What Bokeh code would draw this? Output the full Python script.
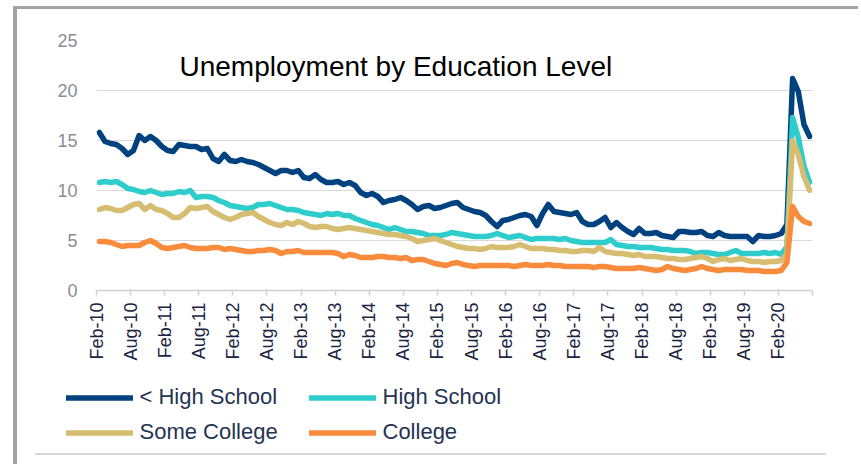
import math
from bokeh.plotting import figure
from bokeh.layouts import column
from bokeh.models import FixedTicker, Legend, LegendItem, Label, Range1d
from bokeh.embed import file_html
from bokeh.resources import INLINE

# monthly index, Feb-2010 (0) .. Jul-2020 (125)
months = list(range(126))
tick_positions = list(range(0, 127, 6))
tick_labels = ["Feb-10", "Aug-10", "Feb-11", "Aug-11", "Feb-12", "Aug-12", "Feb-13",
               "Aug-13", "Feb-14", "Aug-14", "Feb-15", "Aug-15", "Feb-16", "Aug-16",
               "Feb-17", "Aug-17", "Feb-18", "Aug-18", "Feb-19", "Aug-19", "Feb-20", ""]

less_than_hs = [
    15.8, 14.9, 14.7, 14.6, 14.2, 13.6, 14.0, 15.5, 15.0, 15.4, 15.0, 14.4,
    14.0, 13.9, 14.6, 14.5, 14.4, 14.4, 14.1, 14.2, 13.2, 12.9, 13.6, 13.0,
    12.9, 13.1, 12.9, 12.8, 12.6, 12.3, 12.0, 11.7, 12.0, 12.0, 11.8, 12.0,
    11.3, 11.2, 11.6, 11.1, 10.8, 10.8, 10.9, 10.6, 10.8, 10.5, 9.8, 9.5,
    9.7, 9.4, 8.8, 9.0, 9.1, 9.3, 9.0, 8.6, 8.1, 8.4, 8.5, 8.2,
    8.3, 8.5, 8.7, 8.8, 8.3, 8.1, 7.9, 7.8, 7.5, 6.9, 6.4, 7.0,
    7.1, 7.3, 7.5, 7.6, 7.4, 6.5, 7.7, 8.6, 7.9, 7.8, 7.7, 7.6,
    7.8, 6.9, 6.6, 6.6, 6.9, 7.3, 6.3, 6.8, 6.3, 5.9, 5.6, 6.2,
    5.7, 5.7, 5.8, 5.5, 5.4, 5.3, 5.9, 5.9, 5.8, 5.8, 5.9, 5.5,
    5.4, 5.8, 5.5, 5.4, 5.4, 5.4, 5.4, 4.9, 5.5, 5.4, 5.4, 5.5,
    5.7, 6.6, 21.2, 19.9, 16.6, 15.4]

high_school = [
    10.8, 10.9, 10.8, 10.9, 10.6, 10.2, 10.1, 9.9, 9.8, 10.0, 9.8, 9.6,
    9.7, 9.7, 9.9, 9.8, 10.0, 9.3, 9.4, 9.4, 9.3, 9.0, 8.8, 8.5,
    8.4, 8.3, 8.2, 8.3, 8.6, 8.6, 8.7, 8.5, 8.3, 8.1, 8.1, 8.0,
    7.8, 7.7, 7.6, 7.5, 7.7, 7.6, 7.7, 7.5, 7.5, 7.2, 7.0, 6.8,
    6.6, 6.5, 6.3, 6.1, 6.3, 6.1, 5.9, 5.9, 5.8, 5.7, 5.5, 5.5,
    5.5, 5.6, 5.8, 5.7, 5.6, 5.5, 5.4, 5.4, 5.4, 5.5, 5.7, 5.5,
    5.3, 5.4, 5.5, 5.3, 5.1, 5.2, 5.2, 5.2, 5.2, 5.1, 5.2, 5.0,
    4.9, 4.8, 4.8, 4.8, 4.8, 4.8, 5.1, 4.6, 4.5, 4.4, 4.4, 4.3,
    4.3, 4.3, 4.2, 4.1, 4.1, 4.0, 4.0, 4.0, 3.9, 3.7, 3.8, 3.8,
    3.7, 3.6, 3.6, 3.8, 4.0, 3.7, 3.7, 3.7, 3.7, 3.8, 3.7, 3.8,
    3.6, 4.4, 17.3, 15.3, 12.4, 10.8]

some_college = [
    8.1, 8.3, 8.2, 8.0, 8.0, 8.3, 8.6, 8.7, 8.1, 8.5, 8.1, 8.0,
    7.7, 7.3, 7.3, 7.7, 8.3, 8.2, 8.3, 8.4, 7.9, 7.6, 7.3, 7.1,
    7.3, 7.6, 7.7, 7.8, 7.4, 7.1, 6.8, 6.6, 6.5, 6.8, 6.6, 6.9,
    6.7, 6.4, 6.3, 6.4, 6.4, 6.2, 6.1, 6.2, 6.3, 6.2, 6.1, 6.0,
    5.9, 5.8, 5.7, 5.6, 5.6, 5.5, 5.4, 5.2, 4.9, 5.0, 5.1, 5.2,
    5.0, 4.8, 4.6, 4.4, 4.3, 4.2, 4.2, 4.1, 4.2, 4.4, 4.3, 4.3,
    4.3, 4.4, 4.6, 4.4, 4.2, 4.2, 4.2, 4.1, 4.1, 4.0, 4.0, 3.9,
    3.9, 4.0, 4.0, 3.9, 4.3, 3.9, 3.8, 3.7, 3.7, 3.6, 3.5, 3.6,
    3.4, 3.4, 3.4, 3.3, 3.2, 3.2, 3.1, 3.1, 3.2, 3.3, 3.4, 3.2,
    2.9, 3.1, 3.2, 3.0, 3.1, 3.2, 3.0, 2.9, 2.9, 2.8, 2.9, 2.9,
    3.0, 3.7, 15.0, 13.6, 11.4, 10.0]

college = [
    4.9, 4.9, 4.8, 4.6, 4.4, 4.5, 4.5, 4.5, 4.8, 5.0, 4.7, 4.3,
    4.2, 4.3, 4.4, 4.5, 4.3, 4.2, 4.2, 4.2, 4.3, 4.3, 4.1, 4.2,
    4.1, 4.0, 3.9, 3.9, 4.0, 4.0, 4.1, 4.0, 3.7, 3.9, 3.9, 4.0,
    3.8, 3.8, 3.8, 3.8, 3.8, 3.8, 3.7, 3.4, 3.6, 3.5, 3.3, 3.3,
    3.3, 3.4, 3.4, 3.3, 3.3, 3.2, 3.3, 3.0, 3.1, 3.1, 2.9, 2.7,
    2.6, 2.5, 2.7, 2.8, 2.6, 2.5, 2.4, 2.5, 2.5, 2.5, 2.5, 2.5,
    2.5, 2.4, 2.5, 2.6, 2.5, 2.5, 2.5, 2.6, 2.5, 2.5, 2.4, 2.4,
    2.4, 2.4, 2.4, 2.3, 2.4, 2.4, 2.3, 2.2, 2.2, 2.2, 2.2, 2.3,
    2.2, 2.1, 2.0, 2.1, 2.4, 2.2, 2.1, 2.0, 2.1, 2.2, 2.4, 2.2,
    2.1, 2.0, 2.1, 2.1, 2.1, 2.1, 2.0, 2.0, 2.0, 1.9, 1.9, 1.9,
    2.0, 2.8, 8.4, 7.4, 6.9, 6.7]

series_names = ["< High School", "High School", "Some College", "College"]
series_colors = ["#00427f", "#2ecdcc", "#d6bd72", "#f98b3c"]
all_series = [less_than_hs, high_school, some_college, college]

# category centres
x = [m + 0.5 for m in months]

W = 858
H1, H2 = 372, 92

# ---------------- main chart ----------------
p = figure(width=W, height=H1, output_backend="svg", toolbar_location=None,
           x_range=Range1d(0, 126), y_range=Range1d(0, 25),
           min_border_left=96, min_border_right=46, min_border_top=40, min_border_bottom=82)
p.outline_line_color = None
p.background_fill_color = "white"
p.border_fill_color = None

p.xgrid.visible = False
p.ygrid.ticker = FixedTicker(ticks=[5, 10, 15, 20, 25])
p.ygrid.grid_line_color = "#d9d9d9"
p.ygrid.grid_line_width = 1.2

p.yaxis.ticker = FixedTicker(ticks=[0, 5, 10, 15, 20, 25])
p.yaxis.axis_line_color = None
p.yaxis.major_tick_line_color = None
p.yaxis.minor_tick_line_color = None
p.yaxis.major_tick_out = 0
p.yaxis.major_label_standoff = 19
p.yaxis.major_label_text_font = "Liberation Sans"
p.yaxis.major_label_text_font_size = "18px"
p.yaxis.major_label_text_color = "#8a8e94"

p.xaxis.ticker = FixedTicker(ticks=tick_positions)
p.xaxis.major_label_overrides = {t: l for t, l in zip(tick_positions, tick_labels)}
p.xaxis.major_label_orientation = math.pi / 2
p.xaxis.axis_line_color = "#d0d0d0"
p.xaxis.axis_line_width = 1.5
p.xaxis.major_tick_line_color = "#d0d0d0"
p.xaxis.major_tick_line_width = 1.5
p.xaxis.major_tick_out = 5
p.xaxis.major_tick_in = 0
p.xaxis.minor_tick_line_color = None
p.xaxis.major_label_standoff = 7
p.xaxis.major_label_text_font = "Liberation Sans"
p.xaxis.major_label_text_font_size = "18px"
p.xaxis.major_label_text_color = "#1b2440"

for vals, col in zip(all_series, series_colors):
    p.line(x, vals, line_color=col, line_width=5.5, line_cap="round", line_join="round")

title = Label(x=83, y=224, x_units="screen", y_units="screen",
              text="Unemployment by Education Level", text_font="Liberation Sans",
              text_font_size="28px", text_color="#000000", text_baseline="alphabetic")
p.add_layout(title)

# ---------------- legend strip ----------------
lf = figure(width=W, height=H2, output_backend="svg", toolbar_location=None,
            x_axis_location=None, y_axis_location=None,
            x_range=Range1d(0, 126), y_range=Range1d(0, 25), min_border=0)
lf.outline_line_color = None
lf.background_fill_color = None
lf.border_fill_color = None
lf.grid.visible = False

# keep the legend strip's frame independent of the chart's frame
for fig in (p, lf):
    if "frame_align" in fig.properties():
        fig.frame_align = False

legend_renderers = []
for vals, col in zip(all_series, series_colors):
    r = lf.line(x, vals, line_color=col, line_width=5.5, line_cap="round",
                line_join="round", visible=False)
    legend_renderers.append(r)

# column-major: column 1 = < High School, Some College ; column 2 = High School, College
order = [0, 2, 1, 3]
legend = Legend(items=[LegendItem(label=series_names[i], renderers=[legend_renderers[i]]) for i in order],
                orientation="vertical", ncols=2, location=(65.5, 14.5),
                margin=0, padding=0, spacing=0,
                glyph_width=67, glyph_height=35, label_height=35, label_width=169,
                label_standoff=7, label_text_font="Liberation Sans",
                label_text_font_size="22px", label_text_color="#243352",
                border_line_color=None, background_fill_alpha=0,
                inactive_fill_alpha=0, click_policy="none")
lf.add_layout(legend)

page = column(p, lf, spacing=0, styles={"background": (
    "linear-gradient(#a3a3a3,#a3a3a3) 14px 6px / 844px 3px no-repeat, "
    "linear-gradient(#a3a3a3,#a3a3a3) 13px 6px / 4px 458px no-repeat, "
    "linear-gradient(#d6d6d6,#d6d6d6) 35px 453px / 791px 2px no-repeat, #ffffff")})

open("out.html", "w").write(file_html(page, INLINE))
